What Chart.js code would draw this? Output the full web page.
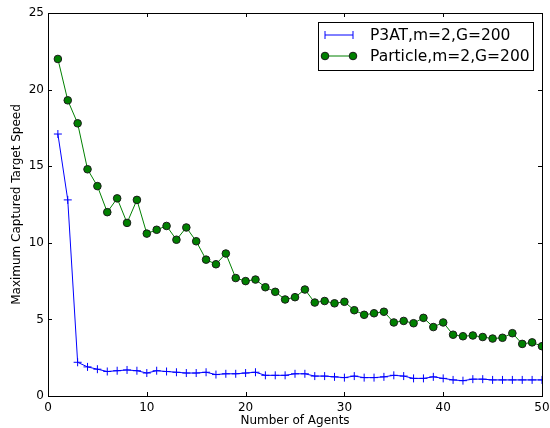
<!DOCTYPE html>
<html><head><meta charset="utf-8">
<script src="https://cdn.jsdelivr.net/npm/chart.js@4/dist/chart.umd.min.js"></script>
<style>html,body{margin:0;padding:0;background:#fff;}#wrap{width:550px;height:428px;}</style>
</head><body><div id="wrap"><canvas id="c" width="550" height="428"></canvas></div>
<script>
const agents = Array.from({length:50},(_,i)=>i+1);
const p3at = [17.1,12.8,2.2,1.9,1.75,1.6,1.65,1.7,1.65,1.5,1.65,1.6,1.55,1.5,1.5,1.55,1.4,1.45,1.45,1.5,1.55,1.35,1.35,1.35,1.45,1.45,1.3,1.3,1.25,1.2,1.3,1.2,1.2,1.25,1.35,1.3,1.15,1.15,1.25,1.15,1.05,1.0,1.1,1.1,1.05,1.05,1.05,1.05,1.05,1.05];
const particle = [22.0,19.3,17.8,14.8,13.7,12.0,12.9,11.3,12.8,10.6,10.85,11.1,10.2,11.0,10.1,8.9,8.6,9.3,7.7,7.5,7.6,7.1,6.8,6.3,6.45,6.95,6.1,6.2,6.05,6.15,5.6,5.3,5.4,5.5,4.8,4.9,4.75,5.1,4.5,4.8,4.0,3.9,3.95,3.85,3.75,3.8,4.1,3.4,3.5,3.25];
const xTicks = [0,10,20,30,40,50];
const yTicks = [0,5,10,15,20,25];
const seriesLabels = ['P3AT,m=2,G=200','Particle,m=2,G=200'];
const FONT = "'DejaVu Sans', sans-serif";

const framePlugin = {
  id:'frame',
  afterDatasetsDraw(chart){
    const {ctx, chartArea:a, scales:{x,y}} = chart;
    ctx.save();
    ctx.strokeStyle='#000'; ctx.lineWidth=1;
    ctx.strokeRect(Math.round(a.left)+0.5, Math.round(a.top)+0.5, Math.round(a.right-a.left), Math.round(a.bottom-a.top));
    ctx.beginPath();
    xTicks.forEach(v=>{const px=Math.round(x.getPixelForValue(v))+0.5;
      ctx.moveTo(px,a.bottom); ctx.lineTo(px,a.bottom-4);
      ctx.moveTo(px,a.top); ctx.lineTo(px,a.top+4);});
    yTicks.forEach(v=>{const py=Math.round(y.getPixelForValue(v))+0.5;
      ctx.moveTo(a.left,py); ctx.lineTo(a.left+4,py);
      ctx.moveTo(a.right,py); ctx.lineTo(a.right-4,py);});
    ctx.stroke();
    // legend
    const lx=318.5, ly=22.5, lw=215, lh=48;
    ctx.fillStyle='#fff'; ctx.fillRect(lx,ly,lw,lh);
    ctx.strokeRect(lx,ly,lw,lh);
    ctx.font="15.5px "+FONT; ctx.textBaseline='middle'; ctx.fillStyle='#000';
    const rows=[ly+12.5, ly+33.5];
    ctx.strokeStyle='#0000ff'; ctx.beginPath(); ctx.moveTo(325,rows[0]); ctx.lineTo(353,rows[0]);
    [325,353].forEach(px=>{ctx.moveTo(px,rows[0]-4);ctx.lineTo(px,rows[0]+4);});
    ctx.stroke();
    ctx.fillText(seriesLabels[0],370,rows[0]+1);
    ctx.strokeStyle='#008000'; ctx.beginPath(); ctx.moveTo(325,rows[1]); ctx.lineTo(353,rows[1]); ctx.stroke();
    [325,353].forEach(px=>{ctx.beginPath();ctx.arc(px,rows[1],3.8,0,Math.PI*2);ctx.fillStyle='#008000';ctx.fill();ctx.strokeStyle='#1a1a1a';ctx.stroke();});
    ctx.fillStyle='#000';
    ctx.fillText(seriesLabels[1],370,rows[1]+1);
    ctx.restore();
  }
};

new Chart(document.getElementById('c'),{
  type:'line',
  data:{datasets:[
    {label:seriesLabels[0], data:agents.map((a,i)=>({x:a,y:p3at[i]})), borderColor:'#0000ff', borderWidth:1,
     pointStyle:'cross', pointRadius:4, pointBorderColor:'#0000ff', pointBorderWidth:1, tension:0, fill:false},
    {label:seriesLabels[1], data:agents.map((a,i)=>({x:a,y:particle[i]})), borderColor:'#008000', borderWidth:1,
     pointStyle:'circle', pointRadius:3.8, pointBackgroundColor:'#008000', pointBorderColor:'#1a1a1a', pointBorderWidth:1, tension:0, fill:false}
  ]},
  options:{
    responsive:false, animation:false, devicePixelRatio:1,
    layout:{padding:{left:0,right:8,top:13,bottom:0}},
    plugins:{legend:{display:false}, tooltip:{enabled:false}},
    scales:{
      x:{type:'linear', min:0, max:50,
        afterBuildTicks(s){s.ticks=xTicks.map(v=>({value:v}));},
        afterFit(s){s.height=32; s.paddingRight=0; s.paddingLeft=0;},
        grid:{display:false, drawTicks:false}, border:{display:false},
        ticks:{color:'#000', font:{family:FONT,size:12}, padding:5, maxRotation:0},
        title:{display:true, text:'Number of Agents', color:'#000', font:{family:FONT,size:12}, padding:{top:0,bottom:0}}},
      y:{type:'linear', min:0, max:25,
        afterBuildTicks(s){s.ticks=yTicks.map(v=>({value:v}));},
        afterFit(s){s.width=48; s.paddingTop=0; s.paddingBottom=0;},
        grid:{display:false, drawTicks:false}, border:{display:false},
        ticks:{color:'#000', font:{family:FONT,size:12}, padding:4},
        title:{display:true, text:'Maximum Captured Target Speed', color:'#000', font:{family:FONT,size:12}, padding:{top:10,bottom:0}}}
    }
  },
  plugins:[framePlugin]
});
</script></body></html>
